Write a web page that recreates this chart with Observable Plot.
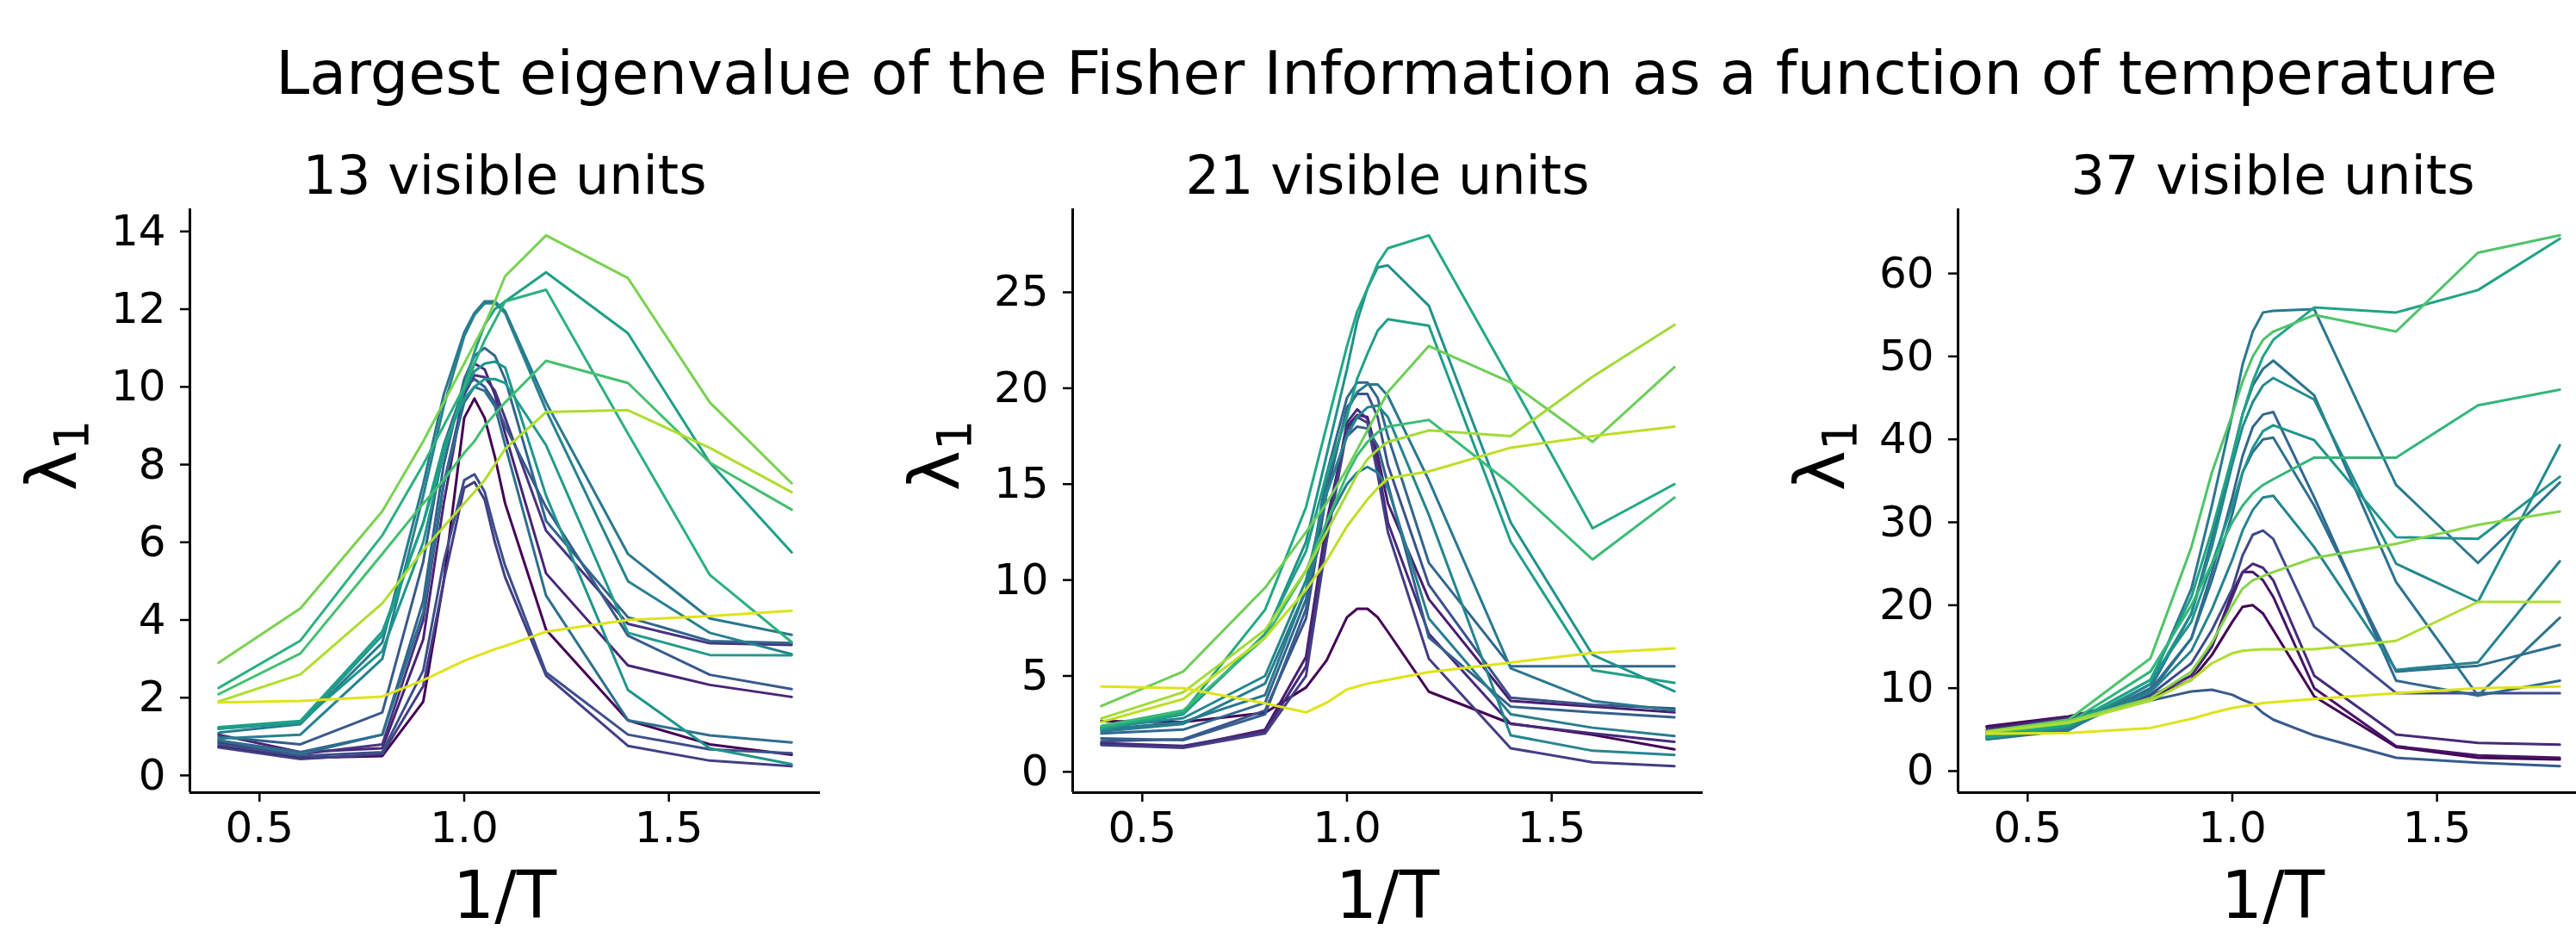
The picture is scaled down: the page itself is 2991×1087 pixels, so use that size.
<!DOCTYPE html>
<html><head><meta charset="utf-8">
<script src="https://cdn.jsdelivr.net/npm/d3@7"></script>
<script src="https://cdn.jsdelivr.net/npm/@observablehq/plot@0.6"></script>
<style>
html,body{margin:0;padding:0;background:#fff;}
#fig{position:relative;width:2991px;height:1087px;overflow:hidden;background:#fff;font-family:"DejaVu Sans",sans-serif;color:#000;}
#fig > svg, #fig > figure{position:absolute;margin:0;}
</style></head><body><div id="fig"></div>
<script>
// ---------------- data ----------------
const title = "Largest eigenvalue of the Fisher Information as a function of temperature";
const panelTitles = ["13 visible units", "21 visible units", "37 visible units"];
const xLabel = "1/T";
const yLabelMain = "λ";
const yLabelSub = "1";

// 1/T grid
const X = [0.4, 0.6, 0.8, 0.9, 0.95, 1.0, 1.025, 1.05, 1.075, 1.1, 1.2, 1.4, 1.6, 1.8];
const xTicks = [0.5, 1.0, 1.5];

// panel 1 : 13 visible units
const yTicks13 = [0, 2, 4, 6, 8, 10, 12, 14];
const colorPos13 = [0.80, 0.88, 0.70, 0.64, 0.56, 0.95, 0.40, 0.44, 0.52, 0.54, 0.32, 0.15, 0.10, 0.36, 0.00, 0.24, 0.18, 0.28];
const values13 = [
  [2.9, 4.3, 6.8, 8.6, 9.6, 10.6, 11.1, 11.6, 12.2, 12.85, 13.9, 12.8, 9.6, 7.52],
  [1.9, 2.6, 4.43, 5.8, 6.4, 7.0, 7.3, 7.6, 8.0, 8.4, 9.35, 9.4, 8.43, 7.29],
  [2.09, 3.14, 5.7, 7.0, 7.6, 8.3, 8.6, 9.0, 9.3, 9.6, 10.67, 10.1, 8.05, 6.84],
  [2.25, 3.47, 6.18, 8.0, 9.0, 10.0, 10.6, 11.2, 11.7, 12.2, 12.5, 8.8, 5.16, 3.43],
  [1.24, 1.4, 3.7, 6.5, 8.3, 10.0, 10.9, 11.6, 12.0, 12.2, 12.95, 11.38, 8.05, 5.74],
  [1.88, 1.92, 2.03, 2.45, 2.7, 2.95, 3.05, 3.15, 3.25, 3.33, 3.7, 4.0, 4.1, 4.24],
  [1.1, 1.32, 3.42, 7.5, 9.8, 11.4, 11.9, 12.2, 12.2, 11.95, 9.6, 5.7, 4.04, 3.62],
  [0.95, 1.05, 3.0, 7.2, 9.5, 11.3, 11.85, 12.15, 12.15, 11.9, 9.4, 5.0, 3.67, 3.12],
  [1.2, 1.38, 3.2, 6.0, 8.3, 9.9, 10.4, 10.6, 10.65, 10.5, 7.2, 2.2, 0.7, 0.29],
  [1.2, 1.35, 3.6, 6.5, 8.5, 9.7, 10.0, 10.2, 10.2, 10.1, 8.5, 3.67, 3.1, 3.09],
  [0.9, 0.6, 1.05, 4.5, 8.0, 10.2, 10.8, 11.0, 10.8, 10.2, 6.55, 4.07, 3.46, 3.41],
  [0.85, 0.55, 0.8, 4.0, 7.5, 9.8, 10.3, 10.25, 9.9, 9.2, 6.3, 3.9, 3.4, 3.36],
  [1.05, 0.6, 0.7, 3.5, 7.0, 9.9, 10.6, 10.45, 9.8, 8.8, 5.2, 2.83, 2.33, 2.02],
  [0.9, 0.55, 1.05, 4.2, 7.5, 9.6, 10.0, 9.9, 9.5, 8.5, 4.63, 1.42, 1.03, 0.85],
  [0.75, 0.45, 0.5, 1.9, 5.0, 9.2, 9.7, 9.2, 8.2, 7.0, 3.75, 1.42, 0.8, 0.53],
  [0.8, 0.5, 0.6, 2.7, 5.5, 7.6, 7.75, 7.3, 6.3, 5.4, 2.65, 1.05, 0.67, 0.57],
  [0.72, 0.42, 0.55, 2.3, 5.0, 7.4, 7.55, 7.1, 6.0, 5.1, 2.57, 0.76, 0.38, 0.24],
  [1.0, 0.8, 1.62, 5.5, 8.5, 10.0, 10.2, 10.0, 9.6, 9.0, 6.9, 3.6, 2.59, 2.22]
];

// panel 2 : 21 visible units
const yTicks21 = [0, 5, 10, 15, 20, 25];
const colorPos21 = [0.60, 0.50, 0.56, 0.78, 0.86, 0.90, 0.68, 0.95, 0.00, 0.33, 0.40, 0.46, 0.25, 0.08, 0.12, 0.30, 0.42, 0.18];
const values21 = [
  [2.3, 3.1, 8.45, 13.8, 18.0, 22.2, 24.0, 25.2, 26.5, 27.3, 27.97, 20.4, 12.7, 15.0],
  [2.2, 3.0, 7.1, 12.0, 16.5, 21.0, 23.5, 25.2, 26.3, 26.4, 24.3, 13.0, 6.1, 4.2],
  [2.3, 3.0, 7.2, 11.5, 15.5, 18.5, 20.5, 21.8, 23.0, 23.6, 23.26, 12.0, 5.3, 4.64],
  [3.43, 5.23, 9.6, 12.5, 14.0, 15.8, 16.8, 17.8, 18.8, 19.8, 22.2, 20.3, 17.2, 21.1],
  [2.78, 4.15, 7.4, 10.5, 12.5, 14.5, 15.5, 16.3, 16.8, 17.2, 17.8, 17.5, 20.6, 23.3],
  [2.6, 3.8, 7.0, 9.5, 11.0, 12.8, 13.5, 14.2, 14.8, 15.3, 15.66, 16.9, 17.5, 18.0],
  [2.4, 3.2, 7.0, 10.5, 13.0, 15.5, 16.5, 17.2, 17.7, 18.0, 18.35, 15.0, 11.07, 14.3],
  [4.45, 4.36, 3.57, 3.1, 3.6, 4.3, 4.45, 4.6, 4.7, 4.8, 5.2, 5.7, 6.2, 6.44],
  [2.64, 2.6, 3.08, 4.4, 5.8, 8.06, 8.5, 8.5, 8.06, 7.3, 4.18, 2.52, 1.93, 1.17],
  [2.0, 2.2, 3.6, 9.0, 15.5, 19.5, 20.3, 20.3, 19.5, 17.5, 10.9, 5.5, 5.5, 5.5],
  [2.2, 2.6, 4.0, 9.5, 15.0, 18.8, 19.8, 20.2, 20.2, 19.6, 15.2, 5.4, 3.7, 3.2],
  [2.3, 2.8, 5.0, 10.0, 14.5, 17.5, 18.5, 19.0, 19.1, 18.5, 13.4, 1.9, 1.1, 0.88],
  [1.6, 1.7, 3.2, 8.0, 14.5, 19.0, 19.7, 19.7, 18.5, 16.0, 9.75, 3.87, 3.5, 3.3],
  [1.45, 1.3, 2.2, 6.0, 13.0, 18.0, 18.6, 18.5, 16.5, 14.0, 9.0, 3.7, 3.4, 3.1],
  [1.5, 1.35, 2.1, 5.5, 12.5, 18.2, 18.9, 18.4, 16.0, 13.0, 7.2, 2.5, 2.0, 1.57],
  [1.75, 1.65, 3.0, 8.5, 14.5, 17.5, 18.0, 17.9, 17.0, 15.0, 7.0, 3.4, 3.1, 2.85],
  [2.1, 2.5, 4.6, 9.5, 13.0, 15.0, 15.6, 15.9, 15.6, 14.8, 8.0, 3.0, 2.3, 1.87],
  [1.4, 1.25, 2.0, 5.0, 12.0, 17.8, 18.5, 18.2, 15.5, 12.5, 5.9, 1.23, 0.5, 0.30]
];

// panel 3 : 37 visible units
const yTicks37 = [0, 10, 20, 30, 40, 50, 60];
const colorPos37 = [0.40, 0.58, 0.72, 0.38, 0.48, 0.33, 0.36, 0.52, 0.45, 0.22, 0.12, 0.05, 0.00, 0.28, 0.95, 0.88, 0.82, 0.66];
const values37 = [
  [3.8, 4.9, 10.5, 22, 32, 43, 49, 53, 55.3, 55.5, 55.7, 34.5, 25.1, 34.8],
  [4.0, 5.5, 11.0, 21, 29, 38, 43, 47, 50, 52, 55.9, 55.3, 58.0, 64.2],
  [4.8, 6.2, 13.6, 27, 36, 43, 47, 50, 52, 53, 55.0, 53.0, 62.5, 64.6],
  [3.9, 5.0, 10.0, 19, 28, 38, 43, 46.5, 48.5, 49.5, 45.3, 22.8, 9.1, 18.5],
  [4.0, 5.3, 10.5, 19, 27, 37, 41.5, 44.5, 46.5, 47.4, 44.8, 25.0, 20.4, 39.3],
  [4.2, 5.6, 9.5, 16, 24, 33, 38, 41.5, 43, 43.3, 33, 10.9, 9.1, 10.9],
  [4.1, 5.4, 9.8, 16, 23, 31, 36, 38.5, 40, 40.2, 32, 12.0, 12.7, 15.2],
  [4.1, 5.6, 11.0, 18, 25, 32, 36, 39, 41, 41.7, 39.9, 28.2, 28.0, 35.5],
  [4.0, 5.2, 9.5, 14.5, 19.5, 25.5, 29, 31.5, 33, 33.2, 27, 12.2, 13.1, 25.3],
  [4.6, 6.2, 9.2, 13, 17, 22, 26, 28.5, 29, 28, 17.4, 9.4, 9.4, 9.4],
  [5.0, 6.4, 9.0, 11.5, 15, 21, 24, 25, 24.5, 23, 11.5, 4.4, 3.4, 3.2],
  [5.3, 6.5, 9.0, 11.5, 15, 21.5, 24, 24, 23, 21, 10, 3.0, 1.9, 1.6],
  [5.4, 6.6, 8.8, 11, 14, 18, 19.8, 20, 19, 17, 9, 2.9, 1.6, 1.4],
  [4.5, 5.9, 8.5, 9.6, 9.8, 9.2, 8.6, 8.1, 7.0, 6.2, 4.3, 1.6, 1.0, 0.6],
  [4.5, 4.6, 5.2, 6.3, 7.0, 7.6, 7.8, 8.0, 8.2, 8.3, 8.7, 9.4, 10.0, 10.2],
  [4.7, 5.8, 8.5, 11, 13, 14.2, 14.5, 14.6, 14.7, 14.7, 14.7, 15.7, 20.4, 20.4],
  [4.8, 6.0, 8.8, 12, 15.5, 20, 22, 23, 23.5, 24, 25.7, 27.4, 29.7, 31.3],
  [4.4, 5.8, 12.0, 20, 25, 30, 32, 33.5, 34.5, 35.2, 37.8, 37.8, 44.1, 46.0]
];

// ---------------- layout ----------------
const FIG_W = 2991, FIG_H = 1087;
const PW = 732, PH = 678;           // plot area
const PLOT_TOP = 242;
const AXIS_LEFTS = [220, 1245, 2273];
const ML = 130, MR = 12, MT = 12, MB = 90;
const FONT = "DejaVu Sans";

const fig = d3.select("#fig");

function makePanel(values, colors, yTicks, axisLeft) {
  const order = d3.range(values.length).sort((a, b) => colors[a] - colors[b]);
  const data = [];
  order.forEach(i => values[i].forEach((v, j) => data.push({s: i, t: colors[i], x: X[j], y: v})));
  const ye = d3.extent(data, d => d.y);
  const yr = ye[1] - ye[0];
  const xr = X[X.length - 1] - X[0];
  const xd = [X[0] - 0.05 * xr, X[X.length - 1] + 0.05 * xr];
  const yd = [ye[0] - 0.05 * yr, ye[1] + 0.05 * yr];
  const p = Plot.plot({
    width: ML + PW + MR, height: MT + PH + MB,
    marginLeft: ML, marginRight: MR, marginTop: MT, marginBottom: MB,
    style: {fontFamily: FONT, fontSize: "50px", background: "transparent", color: "black", overflow: "visible"},
    x: {domain: xd},
    y: {domain: yd},
    color: {type: "linear", scheme: "viridis", domain: [0, 1]},
    marks: [
      Plot.line(data, {x: "x", y: "y", z: "s", stroke: "t", strokeWidth: 3, curve: "linear"}),
      Plot.ruleX([xd[0]], {stroke: "black", strokeWidth: 3}),
      Plot.ruleY([yd[0]], {stroke: "black", strokeWidth: 3}),
      Plot.axisX({ticks: xTicks, tickFormat: d3.format(".1f"), tickSize: 11, tickPadding: 11, fontSize: 50, strokeWidth: 2.5, label: null}),
      Plot.axisY({ticks: yTicks, tickFormat: d3.format("d"), tickSize: 11, tickPadding: 17, fontSize: 50, strokeWidth: 2.5, label: null})
    ]
  });
  d3.select(p).style("position", "absolute").style("left", (axisLeft - ML) + "px").style("top", (PLOT_TOP - MT) + "px");
  fig.node().appendChild(p);
}

makePanel(values13, colorPos13, yTicks13, AXIS_LEFTS[0]);
makePanel(values21, colorPos21, yTicks21, AXIS_LEFTS[1]);
makePanel(values37, colorPos37, yTicks37, AXIS_LEFTS[2]);

// ---------------- text overlay ----------------
const ov = fig.append("svg").attr("width", FIG_W).attr("height", FIG_H)
  .style("position", "absolute").style("left", 0).style("top", 0)
  .attr("font-family", FONT).attr("fill", "black");

ov.append("text").attr("x", 1610).attr("y", 109).attr("text-anchor", "middle")
  .attr("font-size", 70).text(title);

AXIS_LEFTS.forEach((L, i) => {
  const cx = L + PW / 2;
  ov.append("text").attr("x", cx).attr("y", 225).attr("text-anchor", "middle")
    .attr("font-size", 62).text(panelTitles[i]);
  ov.append("text").attr("x", cx).attr("y", 1066).attr("text-anchor", "middle")
    .attr("font-size", 76).text(xLabel);
  const yl = ov.append("text").attr("transform", `translate(${L - 132},529) rotate(-90)`)
    .attr("text-anchor", "middle").attr("font-size", 80);
  yl.append("tspan").text(yLabelMain);
  yl.append("tspan").attr("font-size", 56).attr("dy", 14).text(yLabelSub);
});
</script></body></html>
